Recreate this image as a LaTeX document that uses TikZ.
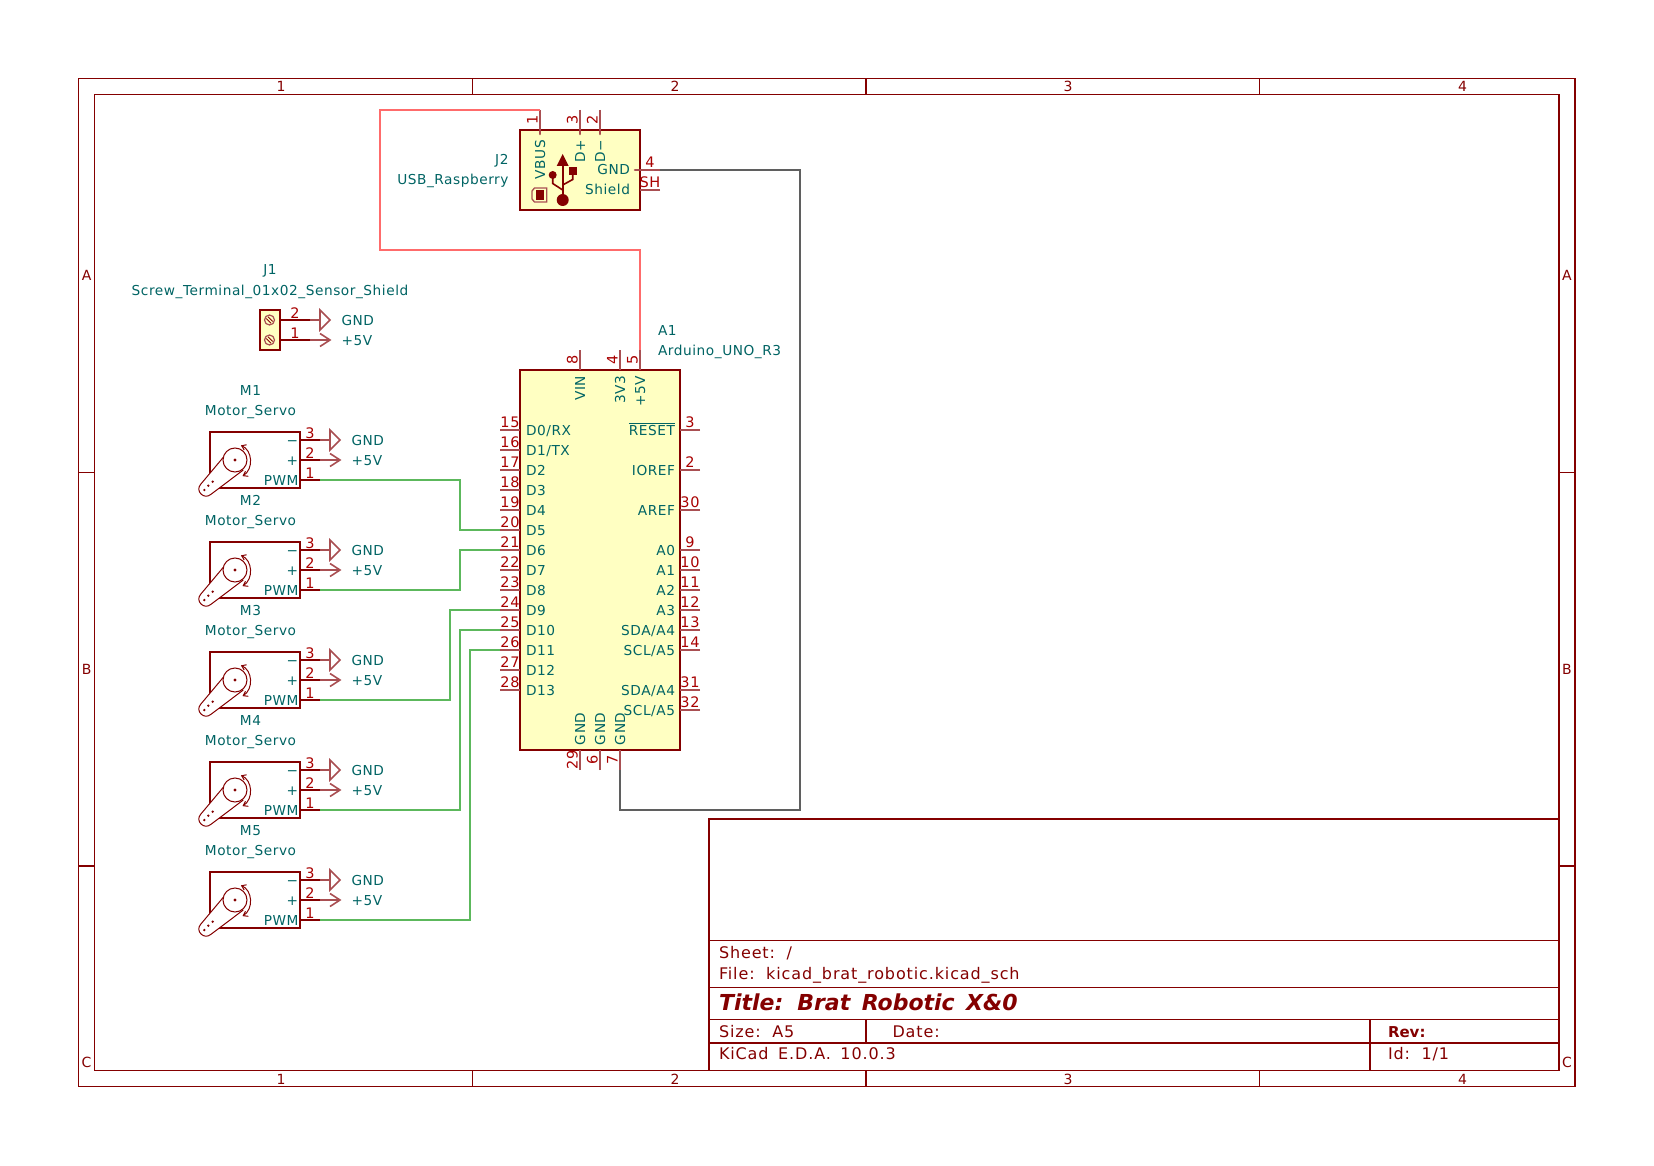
\documentclass[tikz,border=0pt]{standalone}
\usepackage{fontspec}
\setmainfont{DejaVu Sans}[WordSpace=1.5,LetterSpace=4]
\newfontfamily\tbfont{DejaVu Sans}[WordSpace=1.6,LetterSpace=5.5]
\newfontfamily\tbboldfont{DejaVu Sans}[WordSpace=1.5]
\definecolor{body}{HTML}{840000}
\definecolor{pinc}{HTML}{A94F52}
\definecolor{pinnr}{HTML}{A90000}
\definecolor{tealt}{HTML}{006464}
\definecolor{icfill}{HTML}{FFFFC2}
\definecolor{wr}{HTML}{FF6B6B}
\definecolor{wg}{HTML}{5CB85C}
\definecolor{wk}{HTML}{5F5F5F}
\tikzset{
  txt/.style={inner sep=0pt,outer sep=0pt,text height=10pt,text depth=0pt,text=tealt,font=\fontsize{13.7}{14}\selectfont},
  pnum/.style={txt,text=pinnr,font=\fontsize{14.5}{15}\selectfont,anchor=south},
  frametxt/.style={txt,text=body,font=\fontsize{14}{15}\selectfont},
  tbtxt/.style={txt,text=body,anchor=west,font=\tbfont\fontsize{16}{17}\selectfont},
  box/.style={draw=body,line width=2.3pt,fill=icfill,inner sep=0pt,outer sep=0pt},
  pinline/.style={draw=pinc,line width=1.4pt},
  pindark/.style={draw=body,line width=1.5pt},
  pinin/.style={draw=pinc,line width=2.6pt,line cap=round},
  wirered/.style={draw=wr,line width=1.7pt,line join=miter},
  wiregreen/.style={draw=wg,line width=1.7pt},
  wiregrey/.style={draw=wk,line width=1.7pt},
  frameline/.style={draw=body,line width=1.1pt},
  thin1/.style={draw=body,line width=1pt},
  pwrsym/.style={draw=pinc,line width=1.6pt,line join=miter}
}
% left pin of A1: number, y, name
\newcommand\kleft[3]{%
  \coordinate (A1p#1) at (500,#2);
  \draw[pinline] (A1p#1) -- (520,#2);
  \node[pnum] (A1num#1) at (510,#2-2.5) {#1};
  \node[txt,anchor=west] (A1name#1) at (526,#2) {#3};}
\newcommand\kright[3]{%
  \coordinate (A1p#1) at (700,#2);
  \draw[pinline] (A1p#1) -- (680,#2);
  \node[pnum] (A1num#1) at (690,#2-2.5) {#1};
  \node[txt,anchor=east] (A1name#1) at (675,#2) {#3};}
% top pin
\newcommand\ktop[3]{%
  \coordinate (A1p#1) at (#2,350);
  \draw[pinline] (A1p#1) -- (#2,370);
  \node[pnum,rotate=90] (A1num#1) at (#2-2.5,360) {#1};
  \node[txt,rotate=90,anchor=east] (A1name#1) at (#2,376) {#3};}
% bottom pin
\newcommand\kbot[3]{%
  \coordinate (A1p#1) at (#2,770);
  \draw[pinline] (A1p#1) -- (#2,750);
  \node[pnum,rotate=90] (A1num#1) at (#2-2.5,760) {#1};
  \node[txt,rotate=90,anchor=west] (A1name#1) at (#2,745) {#3};}
% GND symbol: name, base x, y, stub start
\newcommand\gndsym[4]{%
  \coordinate (#1) at (#2,#3);
  \draw[pinline] (#4) -- (#1);
  \draw[pwrsym] (#2,#3-10) -- (#2+10,#3) -- (#2,#3+10) -- cycle;
  \node[txt,anchor=west] (#1t) at (#2+21.5,#3) {GND};}
% +5V symbol
\newcommand\pvsym[4]{%
  \coordinate (#1) at (#2+10,#3);
  \draw[pinline] (#4) -- (#1);
  \draw[pwrsym] (#2,#3-6.5) -- (#2+10,#3) -- (#2,#3+6.5);
  \node[txt,anchor=west] (#1t) at (#2+21.5,#3) {+5V};}
% servo: name, y of pin 2
\newcommand\servo[2]{%
  \node[txt,anchor=center] (#1ref) at (250.5,#2-70) {#1};
  \node[txt,anchor=center] (#1val) at (250.5,#2-50) {Motor\_Servo};
  \node[box,fill=white,minimum width=90pt,minimum height=56pt] (#1) at (255,#2) {};
  \coordinate (#1p3) at (320,#2-20);
  \coordinate (#1p2) at (320,#2);
  \coordinate (#1p1) at (320,#2+20);
  \draw[pindark] (#1p3) -- (300,#2-20);
  \draw[pindark] (#1p2) -- (300,#2);
  \draw[pindark] (#1p1) -- (300,#2+20);
  \node[pnum] (#1n3) at (310,#2-22) {3};
  \node[pnum] (#1n2) at (310,#2-2) {2};
  \node[pnum] (#1n1) at (310,#2+18) {1};
  \node[txt,anchor=east] (#1minus) at (298,#2-20) {−};
  \node[txt,anchor=east] (#1plus) at (298,#2) {+};
  \node[txt,anchor=east] (#1pwm) at (298.5,#2+20) {PWM};
  \gndsym{#1g}{330}{#2-20}{#1p3}
  \pvsym{#1v}{330}{#2}{#1p2}
  \begin{scope}[shift={(235,#2)}]
    \filldraw[thin1,fill=white] (-11.7,-2.7) -- (-34.5,24.5) .. controls (-40,31) and (-31,40) .. (-24.3,34.5) -- (8.3,10);
    \filldraw[thin1,fill=white] (0,0) circle[radius=12pt];
    \fill[body] (0,0) circle[radius=1.6pt];
    \fill[body] (-22.3,21.7) circle[radius=1.3pt];
    \fill[body] (-26.7,25.7) circle[radius=1.3pt];
    \fill[body] (-30.7,30) circle[radius=1.3pt];
    \draw[thin1] (6.7,-14.3) .. controls (17.5,-10) and (19,9) .. (8.3,15.7);
    \draw[thin1] (9.2,-10) -- (6.7,-14.3) -- (11.6,-15.2);
    \draw[thin1] (13.3,16.3) -- (8.3,15.7) -- (10.5,11.3);
  \end{scope}}
\begin{document}
\begin{tikzpicture}[x=1pt,y=-1pt]
\useasboundingbox (0,0) rectangle (1654,1166);
\fill[white] (0,0) rectangle (1654,1166);
% ---------- sheet frame
\draw[frameline] (78.7,78.7) rectangle (1575,1086.7);
\draw[frameline] (94.5,94.5) rectangle (1559,1070.7);
\foreach \x in {472.4,866,1259.5}{
  \draw[frameline] (\x,78.7) -- (\x,94.5);
  \draw[frameline] (\x,1070.7) -- (\x,1086.7);}
\foreach \y in {472.4,866}{
  \draw[frameline] (78.7,\y) -- (94.5,\y);
  \draw[frameline] (1559,\y) -- (1575,\y);}
\foreach \n/\x in {1/281,2/675,3/1068,4/1462.5}{
  \node[frametxt] (ztop\n) at (\x,86.5) {\n};
  \node[frametxt] (zbot\n) at (\x,1079) {\n};}
\foreach \n/\y in {A/276,B/669,C/1062.5}{
  \node[frametxt] (zl\n) at (86.6,\y) {\n};
  \node[frametxt] (zr\n) at (1567,\y) {\n};}
% ---------- title block
\draw[frameline] (709,1070.7) -- (709,819) -- (1559,819);
\foreach \y in {940.7,987.3,1019.5,1043}{\draw[frameline] (709,\y) -- (1559,\y);}
\draw[frameline] (866,1019.5) -- (866,1043);
\draw[frameline] (1370,1019.5) -- (1370,1070.7);
\node[tbtxt] (tbsheet) at (719,953) {Sheet: /};
\node[tbtxt] (tbfile) at (719,974.5) {File: kicad\_brat\_robotic.kicad\_sch};
\node[tbtxt,font=\tbboldfont\fontsize{22}{24}\bfseries\itshape\selectfont,text height=16pt] (tbtitle) at (719,1002) {Title: Brat Robotic X\&0};
\node[tbtxt] (tbsize) at (719,1032) {Size: A5};
\node[tbtxt] (tbdate) at (892.5,1032) {Date:};
\node[tbtxt] (tbkicad) at (719,1054) {KiCad E.D.A. 10.0.3};
\node[tbtxt,font=\tbboldfont\fontsize{15}{16}\bfseries\selectfont] (tbrev) at (1388,1032) {Rev:};
\node[tbtxt] (tbid) at (1388,1054) {Id: 1/1};
% ---------- A1
\node[box,minimum width=160pt,minimum height=380pt] (A1) at (600,560) {};
\node[txt,anchor=west] (A1ref) at (658,330) {A1};
\node[txt,anchor=west] (A1val) at (658,350) {Arduino\_UNO\_R3};
\kleft{15}{430}{D0/RX}
\kleft{16}{450}{D1/TX}
\kleft{17}{470}{D2}
\kleft{18}{490}{D3}
\kleft{19}{510}{D4}
\kleft{20}{530}{D5}
\kleft{21}{550}{D6}
\kleft{22}{570}{D7}
\kleft{23}{590}{D8}
\kleft{24}{610}{D9}
\kleft{25}{630}{D10}
\kleft{26}{650}{D11}
\kleft{27}{670}{D12}
\kleft{28}{690}{D13}
\kright{3}{430}{$\overline{\hbox{RESET}}$}
\kright{2}{470}{IOREF}
\kright{30}{510}{AREF}
\kright{9}{550}{A0}
\kright{10}{570}{A1}
\kright{11}{590}{A2}
\kright{12}{610}{A3}
\kright{13}{630}{SDA/A4}
\kright{14}{650}{SCL/A5}
\kright{31}{690}{SDA/A4}
\kright{32}{710}{SCL/A5}
\ktop{8}{580}{VIN}
\ktop{4}{620}{3V3}
\ktop{5}{640}{+5V}
\kbot{29}{580}{GND}
\kbot{6}{600}{GND}
\kbot{7}{620}{GND}
% ---------- J2
\node[box,minimum width=120pt,minimum height=80pt] (J2) at (580,170) {};
\node[txt,anchor=east] (J2ref) at (508.5,160) {J2};
\node[txt,anchor=east] (J2val) at (508.5,180) {USB\_Raspberry};
\foreach \n/\x/\t in {1/540/VBUS,3/580/D+,2/600/D−}{
  \coordinate (J2p\n) at (\x,110);
  \draw[pinline] (J2p\n) -- (\x,130);
  \draw[pinin] (\x,131) -- (\x,134);
  \node[pnum,rotate=90] (J2num\n) at (\x-2.5,120) {\n};
  \node[txt,rotate=90,anchor=east] (J2name\n) at (\x,140) {\t};}
\coordinate (J2p4) at (660,170);
\draw[pinline] (J2p4) -- (640,170);
\draw[pinin] (639,170) -- (635,170);
\node[pnum] (J2num4) at (650,167.5) {4};
\node[txt,anchor=east] (J2name4) at (630,170) {GND};
\coordinate (J2pSH) at (660,190);
\draw[pinline] (J2pSH) -- (640,190);
\node[pnum] (J2numSH) at (650,187.5) {SH};
\node[txt,anchor=east] (J2nameSH) at (630,190) {Shield};
% USB glyph
\draw[body,line width=1.6pt] (562.7,166) -- (562.7,200);
\fill[body] (562.7,154) -- (568.7,166) -- (556.7,166) -- cycle;
\fill[body] (562.7,200) circle[radius=6pt];
\fill[body] (552.7,175) circle[radius=4pt];
\fill[body] (569.3,167.3) rectangle (576.9,174.9);
\draw[body,line width=1.6pt] (552.7,178) -- (552.7,183.5) -- (562.7,190);
\draw[body,line width=1.6pt] (572.7,174) -- (572.7,179.5) -- (562.7,185);
\draw[pinc,line width=1.3pt] (546.7,188) -- (534.5,188) -- (532,191) -- (532,199) -- (534.5,202) -- (546.7,202) -- cycle;
\fill[body] (535.7,190) rectangle (544.3,200);
% ---------- J1
\node[txt,anchor=center] (J1ref) at (270,270) {J1};
\node[txt,anchor=center] (J1val) at (270,290) {Screw\_Terminal\_01x02\_Sensor\_Shield};
\node[box,minimum width=20pt,minimum height=40pt] (J1) at (270,330) {};
\coordinate (J1p2) at (310,320);
\coordinate (J1p1) at (310,340);
\draw[pindark] (J1p2) -- (280,320);
\draw[pindark] (J1p1) -- (280,340);
\node[pnum] (J1n2) at (295,318) {2};
\node[pnum] (J1n1) at (295,338) {1};
\foreach \y in {320,340}{
  \draw[pinc,line width=1.2pt] (269.5,\y) circle[radius=5pt];
  \draw[body,line width=0.9pt] (266.3,\y-1.5) -- (271,\y+3.2);
  \draw[body,line width=0.9pt] (268,\y-3.2) -- (272.7,\y+1.5);}
\gndsym{J1g}{320}{320}{J1p2}
\pvsym{J1v}{320}{340}{J1p1}
% ---------- servos
\servo{M1}{460}
\servo{M2}{570}
\servo{M3}{680}
\servo{M4}{790}
\servo{M5}{900}
% ---------- wires
\coordinate (rw1) at (380,110);
\coordinate (rw2) at (380,250);
\coordinate (rw3) at (640,250);
\draw[wirered] (J2p1) -- (rw1) -- (rw2) -- (rw3) -- (A1p5);
\coordinate (kw1) at (800,170);
\coordinate (kw2) at (800,810);
\coordinate (kw3) at (620,810);
\draw[wiregrey] (J2p4) -- (kw1) -- (kw2) -- (kw3) -- (A1p7);
\coordinate (gw1) at (460,505);
\coordinate (gw2) at (460,570);
\coordinate (gw3) at (450,650);
\coordinate (gw4) at (460,700);
\coordinate (gw5) at (470,800);
\draw[wiregreen] (M1p1) -| (gw1) |- (A1p20);
\draw[wiregreen] (M2p1) -| (gw2) |- (A1p21);
\draw[wiregreen] (M3p1) -| (gw3) |- (A1p24);
\draw[wiregreen] (M4p1) -| (gw4) |- (A1p25);
\draw[wiregreen] (M5p1) -| (gw5) |- (A1p26);
\end{tikzpicture}
\end{document}
